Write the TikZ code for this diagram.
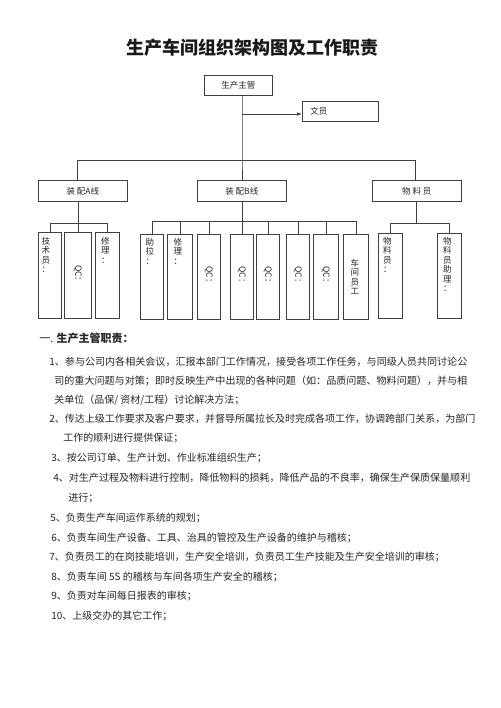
\documentclass[tikz,border=0pt]{standalone}
\usepackage{fontspec}
\usepackage{graphicx}
\setmainfont{Noto Sans CJK SC}
\usetikzlibrary{arrows.meta}
\begin{document}
\begin{tikzpicture}[x=1pt,y=-1pt,
  line width=0.6pt,
  conn/.style={draw=black!75},
  box/.style={draw=black!75, inner sep=0pt, anchor=north west, text=black!85,
    font=\fontsize{8.5}{10}\selectfont},
  vlab/.style={anchor=north, align=center, inner sep=0pt, text=black!85,
    font=\fontsize{8.5}{9.5}\selectfont},
  qc/.style={rotate=-90, inner sep=0pt, text=black!85, font=\fontsize{8.5}{9.5}\selectfont},
  tline/.style={anchor=west, inner sep=0pt, text=black!85, font=\fontsize{10}{12}\selectfont}]
\useasboundingbox (0,0) rectangle (500,708);
\fill[white] (0,0) rectangle (500,708);

% title
\node[font=\bfseries\fontsize{18}{20}\selectfont, text=black!90] (title) at (252,48) {生产车间组织架构图及工作职责};

% top boxes
\node[box, minimum width=68pt, minimum height=20pt] (boss) at (204,75) {生产主管};
\node[box, minimum height=20pt, inner xsep=8pt, text width=60pt, align=left] (clerk) at (302,101) {文员};

\node[box, minimum width=89pt, minimum height=21pt] (A) at (38,180) {装 配A线};
\node[box, minimum width=89pt, minimum height=21pt] (B) at (197,180) {装 配B线};
\node[box, minimum width=89pt, minimum height=21pt] (M) at (372,180) {物 料 员};

% A group boxes
\node[box, minimum width=23pt, minimum height=86pt] (a1) at (38,232) {};
\node[box, minimum width=27pt, minimum height=86pt] (a2) at (64,232) {};
\node[box, minimum width=24pt, minimum height=86pt] (a3) at (95,232) {};
% B group boxes
\node[box, minimum width=23pt, minimum height=85pt] (b1) at (140,234) {};
\node[box, minimum width=25pt, minimum height=85pt] (b2) at (167,234) {};
\node[box, minimum width=23pt, minimum height=85pt] (b3) at (197,234) {};
\node[box, minimum width=23pt, minimum height=85pt] (b4) at (230,234) {};
\node[box, minimum width=23pt, minimum height=85pt] (b5) at (256,234) {};
\node[box, minimum width=23pt, minimum height=85pt] (b6) at (286,234) {};
\node[box, minimum width=25pt, minimum height=85pt] (b7) at (313,234) {};
\node[box, minimum width=25pt, minimum height=85pt] (b8) at (343,234) {};
% M group boxes
\node[box, minimum width=24pt, minimum height=85pt] (m1) at (378,233) {};
\node[box, minimum width=24pt, minimum height=85pt] (m2) at (437,233) {};

% labels in tall boxes
\node[vlab] (t1) at ([xshift=-4pt,yshift=-5pt]a1.north) {技\\术\\员\\：};
\node[qc] (t2) at (a2.center) {QC：};
\node[vlab] (t3) at ([xshift=-2pt,yshift=-5pt]a3.north) {修\\理\\：};
\node[vlab] (t4) at ([xshift=-2pt,yshift=-4pt]b1.north) {助\\拉\\：};
\node[vlab] (t5) at ([xshift=-2pt,yshift=-4pt]b2.north) {修\\理\\：};
\node[qc] (t6) at (b3.center) {QC：};
\node[qc] (t7) at (b4.center) {QC：};
\node[qc] (t8) at (b5.center) {QC：};
\node[qc] (t9) at (b6.center) {QC：};
\node[qc] (t10) at (b7.center) {QC：};
\node[vlab, anchor=center] (t11) at ([xshift=-1pt]b8.center) {车\\间\\员\\工};
\node[vlab] (t12) at ([xshift=-3pt,yshift=-4pt]m1.north) {物\\料\\员\\：};
\node[vlab] (t13) at ([xshift=-2pt,yshift=-4pt]m2.north) {物\\料\\员\\助\\理\\：};

% connectors
\coordinate (jtop) at (242,160);
\coordinate (jA) at (77,160);
\coordinate (jM) at (415,160);
\coordinate (jc) at (242,114);
\draw[conn] (boss.south -| jtop) -- (jtop) -- (B.north -| jtop);
\draw[conn] (jA) -- (jM);
\draw[conn] (jA) -- (A.north -| jA);
\draw[conn] (jM) -- (M.north -| jM);
\draw[conn, -{Latex[length=5pt,width=3.5pt]}] (jc) -- (jc -| clerk.west);

\coordinate (ja) at (78,223);
\draw[conn] (A.south -| ja) -- (ja);
\draw[conn] (a1.north) -- (a1.north |- ja) -- (a3.north |- ja) -- (a3.north);
\draw[conn] (ja) -- (a2.north |- ja) -- (a2.north);

\coordinate (jb) at (242,221);
\draw[conn] (B.south -| jb) -- (jb);
\draw[conn] (b1.north) -- (b1.north |- jb) -- (b8.north |- jb) -- (b8.north);
\foreach \b in {b2,b3,b4,b5,b6,b7}{\draw[conn] (\b.north |- jb) -- (\b.north);}

\coordinate (jm) at (416,223);
\draw[conn] (M.south -| jm) -- (jm);
\draw[conn] (m1.north) -- (m1.north |- jm) -- (m2.north |- jm) -- (m2.north);

% text section
\node[tline, font=\fontsize{11}{13}\selectfont] (h1) at (39,338) {一. \textbf{生产主管职责：}};
\node[tline] (l1) at (49,362) {\resizebox{418pt}{\height}{1、参与公司内各相关会议，汇报本部门工作情况，接受各项工作任务，与同级人员共同讨论公}};
\node[tline] (l2) at (54,381) {\resizebox{413pt}{\height}{司的重大问题与对策；即时反映生产中出现的各种问题（如：品质问题、物料问题），并与相}};
\node[tline] (l3) at (54,400) {关单位（品保/ 资材/工程）讨论解决方法；};
\node[tline] (l4) at (49,419) {\resizebox{426pt}{\height}{2、传达上级工作要求及客户要求，并督导所属拉长及时完成各项工作，协调跨部门关系，为部门}};
\node[tline] (l5) at (63,438) {工作的顺利进行提供保证；};
\node[tline] (l6) at (51,458) {3、按公司订单、生产计划、作业标准组织生产；};
\node[tline] (l7) at (53,478) {\resizebox{417pt}{\height}{4、对生产过程及物料进行控制，降低物料的损耗，降低产品的不良率，确保生产保质保量顺利}};
\node[tline] (l8) at (68,498) {进行；};
\node[tline] (l9) at (50,518) {5、负责生产车间运作系统的规划；};
\node[tline] (l10) at (51,538) {6、负责车间生产设备、工具、治具的管控及生产设备的维护与稽核；};
\node[tline] (l11) at (49,557) {7、负责员工的在岗技能培训，生产安全培训，负责员工生产技能及生产安全培训的审核；};
\node[tline] (l12) at (51,577) {8、负责车间 5S 的稽核与车间各项生产安全的稽核；};
\node[tline] (l13) at (51,596) {9、负责对车间每日报表的审核；};
\node[tline] (l14) at (51,616) {10、上级交办的其它工作；};
\end{tikzpicture}
\end{document}
